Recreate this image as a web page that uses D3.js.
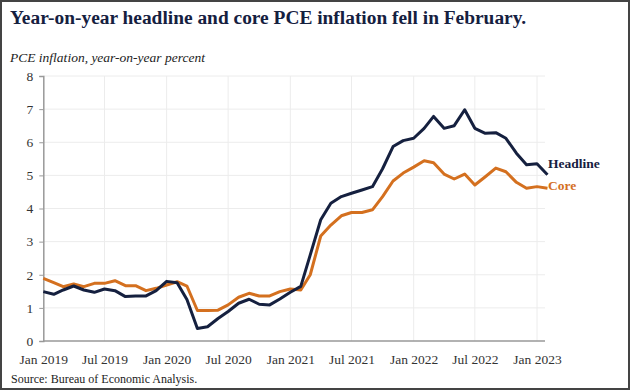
<!DOCTYPE html>
<html>
<head>
<meta charset="utf-8">
<script src="https://cdn.jsdelivr.net/npm/d3@7/dist/d3.min.js"></script>
<style>
  html, body { margin: 0; padding: 0; background: #fff; }
  svg { display: block; }
</style>
</head>
<body>
<svg id="chart" width="630" height="390"></svg>
<script>
// ---- data ----
const startMonth = "2019-01";
const headline = [1.49,1.41,1.54,1.66,1.54,1.47,1.57,1.52,1.34,1.36,1.36,1.52,
  1.80,1.76,1.25,0.38,0.43,0.68,0.89,1.14,1.26,1.11,1.09,1.27,
  1.47,1.65,2.60,3.66,4.16,4.36,4.46,4.56,4.66,5.20,5.87,6.05,
  6.12,6.42,6.78,6.42,6.50,6.98,6.42,6.27,6.29,6.12,5.67,5.32,
  5.35,5.02];
const core = [1.89,1.76,1.64,1.72,1.64,1.74,1.74,1.82,1.67,1.67,1.52,1.59,
  1.69,1.79,1.66,0.92,0.92,0.93,1.09,1.32,1.44,1.36,1.36,1.49,
  1.57,1.54,2.00,3.17,3.50,3.78,3.88,3.88,3.96,4.36,4.83,5.07,
  5.25,5.44,5.38,5.04,4.89,5.04,4.71,4.96,5.22,5.11,4.79,4.61,
  4.66,4.61];
const yTicks = [0,1,2,3,4,5,6,7,8];
const xTickLabels = ["Jan 2019","Jul 2019","Jan 2020","Jul 2020","Jan 2021","Jul 2021","Jan 2022","Jul 2022","Jan 2023"];
const seriesNames = ["Headline","Core"];
const titleText = "Year-on-year headline and core PCE inflation fell in February.";
const subtitleText = "PCE inflation, year-on-year percent";
const sourceText = "Source: Bureau of Economic Analysis.";

// ---- setup ----
const SERIF = '"Liberation Serif", "Times New Roman", serif';
const svg = d3.select("#chart");
const W = 630, H = 390;
const mLeft = 43.3, mRight = 545, mTop = 76, mBottom = 341;
const parse = d3.timeParse("%Y-%m");
const t0 = parse(startMonth);
const dates = headline.map((_, i) => d3.timeMonth.offset(t0, i));
const tickDates = xTickLabels.map(s => d3.timeParse("%b %Y")(s));

const x = d3.scaleTime()
  .domain([tickDates[0], tickDates[tickDates.length - 1]])
  .range([mLeft, 537]);
const y = d3.scaleLinear().domain([0, 8]).range([mBottom, mTop]);

svg.append("rect").attr("width", W).attr("height", H).attr("fill", "#fff");

// gridlines
svg.append("g").selectAll("line").data(yTicks.filter(d => d > 0)).join("line")
  .attr("x1", mLeft).attr("x2", mRight)
  .attr("y1", d => y(d)).attr("y2", d => y(d))
  .attr("stroke", "#ececec").attr("stroke-width", 1);
svg.append("g").selectAll("line").data(tickDates.slice(1)).join("line")
  .attr("x1", d => x(d)).attr("x2", d => x(d))
  .attr("y1", mTop).attr("y2", mBottom)
  .attr("stroke", "#ececec").attr("stroke-width", 1);

// y axis
const yAxis = d3.axisLeft(y).tickValues(yTicks).tickSize(4).tickPadding(6).tickFormat(d3.format("d"));
const gy = svg.append("g").attr("transform", `translate(${mLeft},0)`).call(yAxis)
  .attr("font-family", null).style("font-family", SERIF);
gy.select(".domain").attr("stroke", "#999").attr("stroke-width", 1.5);
gy.selectAll(".tick line").attr("stroke", "#999");
gy.selectAll(".tick text").style("font-family", SERIF).style("font-size", "13.5px").attr("fill", "#333");

// x axis
const xAxis = d3.axisBottom(x).tickValues(tickDates).tickSize(0).tickPadding(13)
  .tickFormat((d, i) => xTickLabels[i]);
const gx = svg.append("g").attr("transform", `translate(0,${mBottom})`).call(xAxis)
  .attr("font-family", null).style("font-family", SERIF);
gx.select(".domain").attr("stroke", "#999").attr("stroke-width", 1.5)
  .attr("d", `M${mLeft},0H${mRight}`);
gx.selectAll(".tick text").style("font-family", SERIF).style("font-size", "13.5px").attr("fill", "#333");

// lines
const line = d3.line().x((d, i) => x(dates[i])).y(d => y(d));
svg.append("path").datum(core).attr("d", line)
  .attr("fill", "none").attr("stroke", "#d4701f").attr("stroke-width", 3).attr("stroke-linejoin", "round");
svg.append("path").datum(headline).attr("d", line)
  .attr("fill", "none").attr("stroke", "#15203f").attr("stroke-width", 3).attr("stroke-linejoin", "round");

// series labels
svg.append("text").attr("x", 548).attr("y", 168).text(seriesNames[0])
  .style("font-family", SERIF).style("font-weight", "bold").style("font-size", "13.5px").attr("fill", "#15203f");
svg.append("text").attr("x", 548).attr("y", 190).text(seriesNames[1])
  .style("font-family", SERIF).style("font-weight", "bold").style("font-size", "13.5px").attr("fill", "#d4701f");

// title etc.
svg.append("text").attr("x", 10).attr("y", 24).text(titleText)
  .style("font-family", SERIF).style("font-weight", "bold").style("font-size", "19.4px").attr("fill", "#15203f");
svg.append("text").attr("x", 10).attr("y", 62).text(subtitleText)
  .style("font-family", SERIF).style("font-style", "italic").style("font-size", "13.5px").attr("fill", "#222");
svg.append("text").attr("x", 11).attr("y", 383).text(sourceText)
  .style("font-family", SERIF).style("font-size", "12px").attr("fill", "#222");

// frame
svg.append("rect").attr("x", 1).attr("y", 1).attr("width", W - 2).attr("height", H - 2)
  .attr("fill", "none").attr("stroke", "#444").attr("stroke-width", 2);
</script>
</body>
</html>
